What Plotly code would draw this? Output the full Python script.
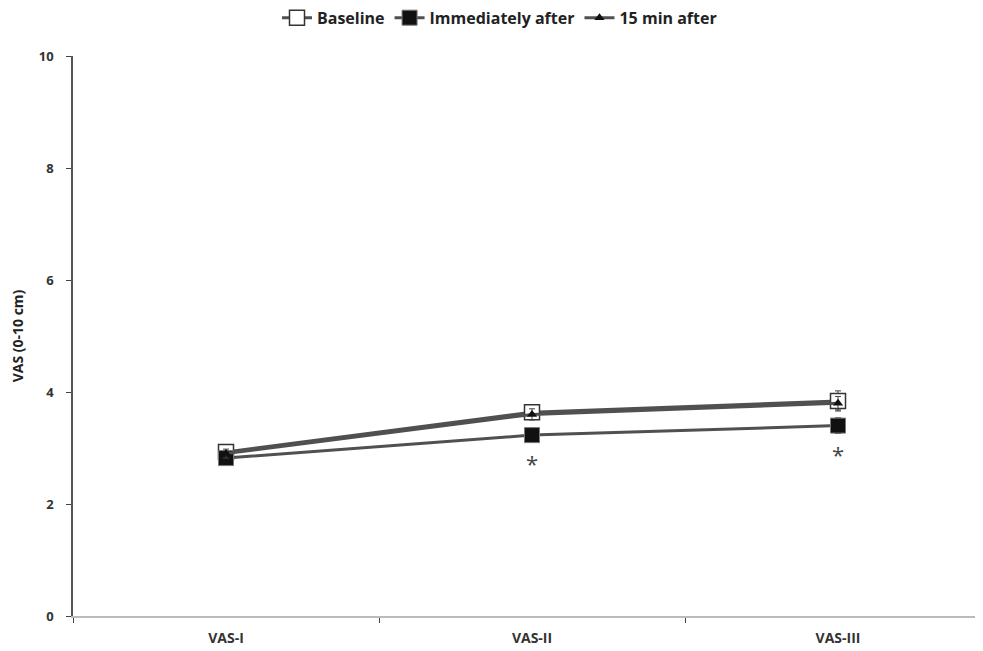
import plotly.graph_objects as go

categories = ["VAS-I", "VAS-II", "VAS-III"]
baseline = [2.93, 3.64, 3.84]
baseline_err = [0.08, 0.12, 0.18]
immediately = [2.82, 3.23, 3.40]
immediately_err = [0.10, 0.12, 0.14]
min15 = [2.90, 3.60, 3.80]
min15_err = [0.08, 0.10, 0.12]
significant = [False, True, True]
y_ticks = [0, 2, 4, 6, 8, 10]

FONT = "Open Sans"
LINE_COL = "#505050"

fig = go.Figure()
fig.add_trace(go.Scatter(
    x=categories, y=baseline, name="Baseline", mode="lines+markers",
    line=dict(color=LINE_COL, width=3),
    marker=dict(symbol="square", size=15, color="white", line=dict(color="#333", width=1.5)),
    error_y=dict(type="data", array=baseline_err, color="#444", thickness=1, width=3),
))
fig.add_trace(go.Scatter(
    x=categories, y=immediately, name="Immediately after", mode="lines+markers",
    line=dict(color=LINE_COL, width=3),
    marker=dict(symbol="square", size=15, color="#111", line=dict(color="#777", width=1)),
    error_y=dict(type="data", array=immediately_err, color="#444", thickness=1, width=3),
))
fig.add_trace(go.Scatter(
    x=categories, y=min15, name="15 min after", mode="lines+markers",
    line=dict(color=LINE_COL, width=3),
    marker=dict(symbol="triangle-up", size=9, color="#111"),
    error_y=dict(type="data", array=min15_err, color="#444", thickness=1, width=3),
))

for c, v, s in zip(categories, immediately, significant):
    if s:
        fig.add_annotation(x=c, y=v, text="*", showarrow=False, yshift=-28,
                           font=dict(family=FONT, size=22, color="#444"))

fig.update_layout(
    width=983, height=651,
    margin=dict(l=65, r=0, t=48, b=43, autoexpand=False),
    plot_bgcolor="white", paper_bgcolor="white",
    font=dict(family=FONT, color="#333"),
    showlegend=True,
    legend=dict(orientation="h", x=0.5, xanchor="center", xref="container",
                y=0.985, yanchor="middle", yref="container",
                font=dict(family=FONT, size=16, color="#222", weight="bold"),
                itemwidth=30, traceorder="normal"),
    xaxis=dict(
        type="category", range=[-0.5, 2.5], automargin=False,
        showline=True, linecolor="#bbbbbb", linewidth=2,
        ticks="outside", tickson="boundaries", ticklen=5, tickcolor="#444",
        tickfont=dict(family=FONT, size=14, color="#333", weight="bold"),
        ticklabelstandoff=8,
        showgrid=False, zeroline=False,
    ),
    yaxis=dict(
        range=[0, 10], tickvals=y_ticks, automargin=False,
        showline=True, linecolor="#555", linewidth=1.5,
        ticks="outside", ticklen=5, tickcolor="#444",
        tickfont=dict(family=FONT, size=13, color="#333", weight="bold"),
        ticklabelstandoff=10,
        showgrid=False, zeroline=False,
        title=dict(text="VAS (0-10 cm)", font=dict(family=FONT, size=14, color="#222", weight="bold"), standoff=12),
    ),
)
fig.write_html("out.html")
